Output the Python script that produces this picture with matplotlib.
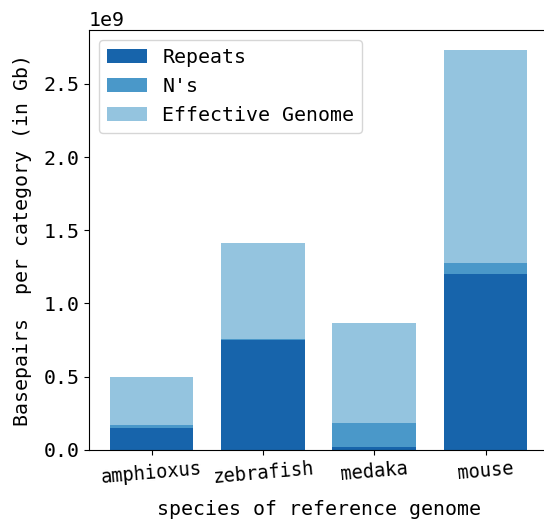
import matplotlib
matplotlib.use("Agg")
import matplotlib.pyplot as plt
import numpy as np

species = ["amphioxus", "zebrafish", "medaka", "mouse"]
repeats = [0.15e9, 0.75e9, 0.02e9, 1.20e9]
ns = [0.02e9, 0.005e9, 0.166e9, 0.076e9]
totals = [0.497e9, 1.41e9, 0.865e9, 2.73e9]
effective = [t - r - n for t, r, n in zip(totals, repeats, ns)]

plt.rcParams['font.family'] = ['DejaVu Sans Mono']
fs = 14.3

fig = plt.figure(figsize=(5.44, 5.2), dpi=100)
ax = fig.add_axes([0.1636, 0.135, 0.844, 0.807])
x = np.arange(len(species))
w = 0.75
ax.bar(x, repeats, w, color="#1764ab", label="Repeats")
ax.bar(x, ns, w, bottom=repeats, color="#4a98c9", label="N's")
bot2 = [r + n for r, n in zip(repeats, ns)]
ax.bar(x, effective, w, bottom=bot2, color="#94c4df", label="Effective Genome")
ax.set_xticks(x)
ax.set_xticklabels(species, rotation=5, fontsize=13.5)
ax.tick_params(axis='y', labelsize=fs)
ax.yaxis.get_offset_text().set_fontsize(fs)
ax.set_xlabel("species of reference genome", fontsize=fs, labelpad=9)
ax.set_ylabel("Basepairs  per category (in Gb)", fontsize=fs, labelpad=8)
ax.spines['right'].set_visible(False)
ax.set_xlim(-0.5625, 3.5625)
ax.set_ylim(0, 2.8665e9)
ax.legend(loc="upper left", fontsize=fs)
fig.savefig("out.png", dpi=100)
